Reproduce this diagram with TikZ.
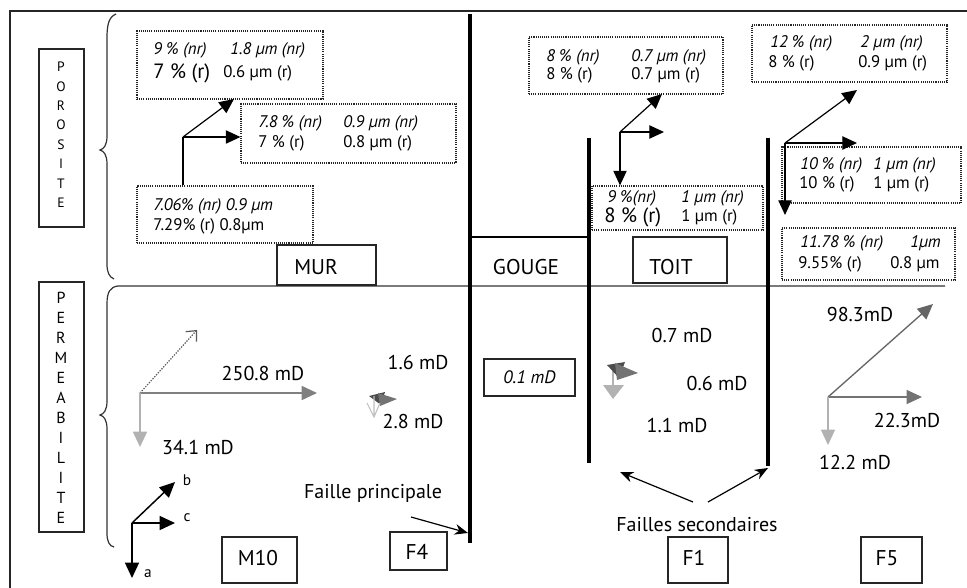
\documentclass[tikz,border=0pt]{standalone}
\usepackage{fontspec}
\setmainfont{PT Sans}
\usetikzlibrary{arrows.meta}
\newcommand\myfs[1]{\fontsize{#1}{#1}\selectfont}
\begin{document}
\begin{tikzpicture}[x=0.75pt,y=-0.75pt,
  frameline/.style={draw=black!85,line width=1.1pt},
  fault/.style={line width=3.2pt,black},
  dotbox/.style={draw=black!85,line width=0.85pt,dash pattern=on 0.8pt off 0.8pt,inner sep=0pt},
  sbox/.style={draw=black!85,line width=1pt,inner sep=0pt},
  ptxt/.style={anchor=west,inner sep=0pt,font=\myfs{12.6}},
  pit/.style={ptxt,font=\myfs{12.6}\itshape},
  pbig/.style={ptxt,font=\myfs{15.5}},
  permlab/.style={inner sep=0pt,font=\myfs{15}},
  boxlab/.style={inner sep=0pt,font=\myfs{16}},
  vlet/.style={inner sep=0pt},
  parr/.style={line width=0.9pt,-{Triangle[length=11pt,width=10pt]}},
  karr/.style={line width=1.1pt,-{Triangle[length=11.5pt,width=10.5pt]}},
  garr/.style={-{Triangle[length=11.5pt,width=10.5pt]}},
  brace/.style={draw=black!80,line width=0.9pt}]
\useasboundingbox (0,0) rectangle (967,588);
% frame
\draw[frameline] (10,590) -- (10,11) -- (969,11);
% braces and separating line
\draw[brace] (116,14) .. controls (109,17) and (107,24) .. (107,38) -- (107,136)
  .. controls (107,145) and (104,149) .. (100,150) .. controls (104,151) and (107,155) .. (107,164)
  -- (107,264) .. controls (107,272) and (109,277) .. (114,279);
\draw[brace] (945,286) -- (118,286) .. controls (110,287) and (107,292) .. (107,304) -- (107,401)
  .. controls (107,410) and (104,414) .. (100,415) .. controls (104,416) and (107,420) .. (107,429)
  -- (107,533) .. controls (107,541) and (109,546) .. (114,547);
% side boxes
\node[sbox,minimum width=33.75pt,minimum height=133.5pt] (poro) at (61.5,138) {};
\foreach \l [count=\i from 0] in {P,O,R,O,S,I,T,E}
  \node[vlet,font=\myfs{10.2}] (po\i) at (61,{67+19.4*\i}) {\l};
\node[sbox,minimum width=33.75pt,minimum height=187.5pt] (perm) at (61.5,407) {};
\foreach \l [count=\i from 0] in {P,E,R,M,E,A,B,I,L,I,T,E}
  \node[vlet,font=\myfs{12}] (pe\i) at (61,{298+20*\i}) {\l};
% faults
\draw[fault] (470,14) -- (470,543);
\draw[fault] (589,138) -- (589,463);
\draw[fault] (768,138) -- (768,466);
\draw[line width=1pt] (470,237) -- (589,237);
% zone boxes
\node[sbox,minimum width=74.25pt,minimum height=30pt] (mur) at (326.5,265) {};
\node[boxlab] (murt) at (316,267) {MUR};
\node[boxlab] (gouget) at (526,267) {GOUGE};
\node[sbox,minimum width=70.5pt,minimum height=34.5pt] (toit) at (680,260) {};
\node[boxlab] (toitt) at (671,267) {TOIT};
% ---- porosity MUR
\node[dotbox,minimum width=139.5pt,minimum height=51pt] (b1) at (230,65) {};
\node[pit] (b1a) at (153,50) {9 \% (nr)};
\node[pit] (b1b) at (230,50) {1.8 µm (nr)};
\node[pbig] (b1c) at (153,73) {7 \% (r)};
\node[ptxt] (b1d) at (223,73) {0.6 µm (r)};
\node[dotbox,minimum width=161.25pt,minimum height=44.25pt] (b2) at (348.5,133.5) {};
\node[pit] (b2a) at (258,123) {7.8 \% (nr)};
\node[pit] (b2b) at (343,123) {0.9 µm (nr)};
\node[ptxt] (b2c) at (258,143) {7 \% (r)};
\node[ptxt] (b2d) at (343,143) {0.8 µm (r)};
\node[dotbox,minimum width=132pt,minimum height=42.75pt] (b3) at (225,214.5) {};
\node[pit] (b3a) at (153,206) {7.06\% (nr) 0.9 µm};
\node[ptxt] (b3b) at (153,226) {7.29\% (r) 0.8µm};
\coordinate (o1) at (183,137);
\coordinate (o1d) at (234,99);
\draw[line width=0.9pt] (b3.north -| o1) -- (o1);
\draw[parr] (o1) -- (o1d);
\draw[parr] (o1) -- (o1 -| b2.west);
% ---- porosity TOIT
\node[dotbox,minimum width=145.5pt,minimum height=42.75pt] (t1) at (626,65.5) {};
\node[pit] (t1a) at (546,57) {8 \% (nr)};
\node[pit] (t1b) at (631,57) {0.7 µm (nr)};
\node[ptxt] (t1c) at (546,75) {8 \% (r)};
\node[ptxt] (t1d) at (631,75) {0.7 µm (r)};
\node[dotbox,minimum width=128.25pt,minimum height=33pt] (t2) at (677.5,208) {};
\node[pit] (t2a) at (607,198) {9 \%(nr)};
\node[pit] (t2b) at (681,198) {1 µm (nr)};
\node[pbig] (t2c) at (604,217) {8 \% (r)};
\node[ptxt] (t2d) at (681,217) {1 µm (r)};
\coordinate (o2) at (620,132);
\coordinate (o2d) at (662,94);
\coordinate (o2h) at (664,132);
\draw[parr] (o2) -- (o2d);
\draw[parr] (o2) -- (o2h);
\draw[parr] (o2) -- (o2 |- t2.north);
% ---- porosity F5
\node[dotbox,minimum width=146.25pt,minimum height=42.75pt] (f1) at (849.5,53.5) {};
\node[pit] (f1a) at (770,43) {12 \% (nr)};
\node[pit] (f1b) at (860,43) {2 µm (nr)};
\node[ptxt] (f1c) at (768,63) {8 \% (r)};
\node[ptxt] (f1d) at (858,63) {0.9 µm (r)};
\node[dotbox,minimum width=134.25pt,minimum height=42pt] (f2) at (871.5,175) {};
\node[pit] (f2a) at (800,165) {10 \% (nr)};
\node[pit] (f2b) at (873,165) {1 µm (nr)};
\node[ptxt] (f2c) at (799,184) {10 \% (r)};
\node[ptxt] (f2d) at (873,184) {1 µm (r)};
\node[dotbox,minimum width=129.75pt,minimum height=39pt] (f3) at (868.5,254) {};
\node[pit] (f3a) at (800,243) {11.78 \% (nr)};
\node[pit] (f3b) at (910,243) {1µm};
\node[ptxt] (f3c) at (798,264) {9.55\% (r)};
\node[ptxt] (f3d) at (890,264) {0.8 µm};
\coordinate (o3) at (785,143);
\coordinate (o3d) at (857,90);
\coordinate (o3h) at (857,143);
\coordinate (o3v) at (785,215);
\draw[parr] (o3) -- (o3d);
\draw[parr] (o3) -- (o3h);
\draw[parr] (o3) -- (o3v);
% ---- permeability M10
\coordinate (m0) at (140,393);
\coordinate (md) at (197,330);
\coordinate (mh) at (317,393);
\coordinate (mv) at (140,447);
\draw[draw=black!65,line width=0.9pt,dash pattern=on 1pt off 1pt,-{Straight Barb[length=6pt,width=11pt,line width=0.9pt]}] (m0) -- (md);
\draw[garr,draw=black!50,line width=1.3pt] (m0) -- (mh);
\draw[garr,draw=black!30,line width=1.3pt] (m0) -- (mv);
\node[permlab] (l250) at (263,373) {250.8 mD};
\node[permlab] (l341) at (198,447) {34.1 mD};
% ---- permeability F4 (tiny vectors)
\coordinate (q1) at (369,396);
\coordinate (q2) at (385,392);
\coordinate (q3) at (381,405);
\fill[black!70] (q1) -- (q2) -- (q3) -- cycle;
\coordinate (q4) at (378,393);
\coordinate (q5) at (397,399);
\coordinate (q6) at (380,406);
\fill[black!55] (q4) -- (q5) -- (q6) -- cycle;
\coordinate (q7) at (367,403);
\coordinate (q8) at (374,417);
\coordinate (q9) at (380,403);
\coordinate (q10) at (374,396);
\draw[black!25,line width=0.8pt] (q7) -- (q8) -- (q9) (q10) -- (q8);
\node[permlab] (l16) at (418,362) {1.6 mD};
\node[permlab] (l28) at (413,421) {2.8 mD};
% ---- permeability gouge
\node[sbox,minimum width=68.25pt,minimum height=27.75pt,font=\myfs{13.5}\itshape] (g01) at (529.5,377.5) {0.1 mD};
% ---- permeability F1 (tiny vectors)
\coordinate (r0) at (613,370);
\coordinate (r1) at (613,386);
\draw[black!30,line width=1pt] (r0) -- (r1);
\coordinate (r2) at (603,385);
\coordinate (r3) at (613,399);
\coordinate (r4) at (624,385);
\fill[black!30] (r2) -- (r3) -- (r4) -- cycle;
\coordinate (r5) at (607,365);
\coordinate (r6) at (625,362);
\coordinate (r7) at (619,378);
\fill[black!70] (r5) -- (r6) -- (r7) -- cycle;
\coordinate (r8) at (615,363);
\coordinate (r9) at (638,373);
\coordinate (r10) at (617,380);
\fill[black!55] (r8) -- (r9) -- (r10) -- cycle;
\node[permlab] (l07) at (682,335) {0.7 mD};
\node[permlab] (l06) at (717,383) {0.6 mD};
\node[permlab] (l11) at (677,425) {1.1 mD};
% ---- permeability F5
\coordinate (n0) at (828,397);
\coordinate (nd) at (933,304);
\coordinate (nh) at (922,397);
\coordinate (nv) at (828,445);
\draw[garr,draw=black!60,line width=1pt] (n0) -- (nd);
\draw[garr,draw=black!55,line width=1pt] (n0) -- (nh);
\draw[garr,draw=black!30,line width=1pt] (n0) -- (nv);
\node[permlab] (l983) at (860,314) {98.3mD};
\node[permlab] (l223) at (907,420) {22.3mD};
\node[permlab] (l122) at (855,462) {12.2 mD};
% ---- axes
\coordinate (ax) at (132,523);
\coordinate (axb) at (175,482);
\coordinate (axc) at (175,523);
\coordinate (axa) at (132,578);
\draw[karr] (ax) -- (axb);
\draw[karr] (ax) -- (axc);
\draw[karr] (ax) -- (axa);
\node[inner sep=0pt,font=\myfs{11.5}] (lb) at (187,480) {b};
\node[inner sep=0pt,font=\myfs{11.5}] (lc) at (187,518) {c};
\node[inner sep=0pt,font=\myfs{11.5}] (la) at (148,574) {a};
% ---- fault labels
\node[permlab] (fp) at (373,493) {Faille principale};
\coordinate (fpa) at (411,517);
\coordinate (fpb) at (468,533);
\draw[line width=0.9pt,-{Stealth[length=10pt,width=8pt]}] (fpa) -- (fpb);
\node[permlab] (fs) at (697,525) {Failles secondaires};
\coordinate (fsa) at (693,502);
\coordinate (fsb) at (620,472);
\coordinate (fsc) at (708,502);
\coordinate (fsd) at (768,468);
\draw[line width=0.9pt,-{Stealth[length=10pt,width=8pt]}] (fsa) -- (fsb);
\draw[line width=0.9pt,-{Stealth[length=10pt,width=8pt]}] (fsc) -- (fsd);
% ---- sample boxes
\node[sbox,minimum width=56.25pt,minimum height=34.5pt] (m10) at (259.5,560) {};
\node[boxlab] (m10t) at (258,558) {M10};
\node[sbox,minimum width=42.75pt,minimum height=28.5pt] (f4) at (418.5,551) {};
\node[boxlab] (f4t) at (417,552) {F4};
\node[sbox,minimum width=45pt,minimum height=34.5pt] (f1b0) at (698,560) {};
\node[boxlab] (f1t) at (694,558) {F1};
\node[sbox,minimum width=45.75pt,minimum height=34.5pt] (f5b) at (891.5,560) {};
\node[boxlab] (f5t) at (887,558) {F5};
\end{tikzpicture}
\end{document}
